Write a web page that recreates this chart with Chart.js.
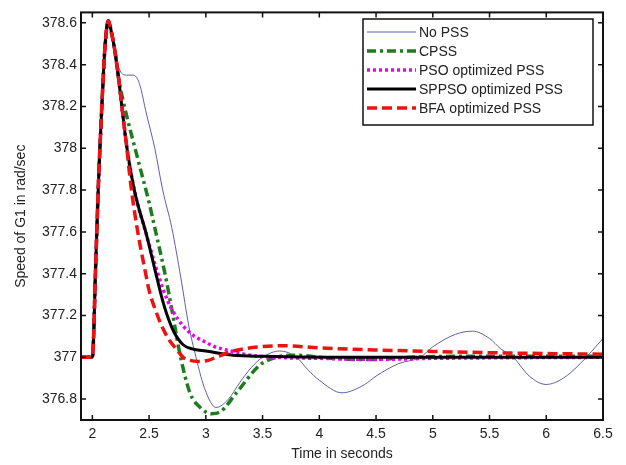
<!DOCTYPE html>
<html lang="en">
<head>
  <meta charset="UTF-8" />
  <title>Speed of G1</title>
  <script src="https://cdn.jsdelivr.net/npm/chart.js"></script>
  <style>
    html, body { margin: 0; padding: 0; background: #fff; }
    #wrap { width: 626px; height: 465px; }
  </style>
</head>
<body>
  <div id="wrap"><canvas id="speedChart" width="626" height="465"></canvas></div>

  <script>
    // common first swing (all controllers identical here)
    const riseTime  = [1.9, 2.0, 2.03, 2.055, 2.075, 2.095, 2.112, 2.14, 2.17, 2.2];
    const riseSpeed = [377.0, 377.0, 377.45, 377.85, 378.1, 378.33, 378.49, 378.61, 378.55, 378.46];

    const noPssTime  = [2.245, 2.3, 2.36, 2.4, 2.43, 2.47, 2.55, 2.62, 2.7, 2.78, 2.85, 2.9, 2.99, 3.09, 3.2, 3.3, 3.4, 3.5, 3.65, 3.8, 3.9, 4.0, 4.2, 4.4, 4.5, 4.7, 4.89, 5.0, 5.2, 5.35, 5.5, 5.6, 5.71, 5.85, 6.0, 6.15, 6.3, 6.5];
    const noPssSpeed = [378.37, 378.35, 378.35, 378.33, 378.28, 378.18, 378.0, 377.8, 377.62, 377.38, 377.15, 377.03, 376.85, 376.76, 376.8, 376.88, 376.95, 377.0, 377.03, 377.0, 376.94, 376.89, 376.83, 376.87, 376.91, 376.97, 377.0, 377.05, 377.11, 377.125, 377.09, 377.04, 377.0, 376.91, 376.87, 376.9, 376.97, 377.09];

    const cpssTime  = [2.23, 2.27, 2.4, 2.5, 2.55, 2.64, 2.71, 2.77, 2.86, 2.95, 3.05, 3.13, 3.27, 3.47, 3.62, 3.8, 4.0, 4.3, 4.5, 4.8, 5.5, 6.5];
    const cpssSpeed = [378.34, 378.23, 377.95, 377.74, 377.62, 377.4, 377.2, 377.02, 376.83, 376.76, 376.73, 376.74, 376.83, 376.96, 377.0, 377.01, 377.0, 376.99, 376.99, 377.0, 377.005, 377.005];

    const psoTime  = [2.23, 2.26, 2.3, 2.37, 2.48, 2.56, 2.62, 2.7, 2.8, 2.9, 2.97, 3.08, 3.18, 3.39, 3.6, 4.0, 4.5, 5.0, 6.5];
    const psoSpeed = [378.34, 378.2, 378.02, 377.8, 377.58, 377.43, 377.33, 377.23, 377.15, 377.1, 377.08, 377.05, 377.035, 377.01, 377.0, 376.995, 376.99, 376.995, 377.0];

    const sppsoTime  = [2.23, 2.26, 2.3, 2.37, 2.48, 2.56, 2.62, 2.66, 2.72, 2.8, 2.88, 3.0, 3.24, 3.5, 4.5, 6.5];
    const sppsoSpeed = [378.34, 378.2, 378.02, 377.8, 377.58, 377.4, 377.27, 377.2, 377.12, 377.06, 377.04, 377.03, 377.01, 377.005, 377.0, 377.0];

    const bfaTime  = [2.23, 2.26, 2.3, 2.34, 2.4, 2.47, 2.5, 2.56, 2.62, 2.68, 2.74, 2.8, 2.86, 2.94, 3.02, 3.09, 3.24, 3.47, 3.7, 4.0, 4.5, 5.0, 5.5, 6.0, 6.5];
    const bfaSpeed = [378.34, 378.2, 378.02, 377.82, 377.6, 377.4, 377.32, 377.22, 377.14, 377.08, 377.04, 377.0, 376.985, 376.98, 376.985, 377.0, 377.03, 377.05, 377.055, 377.045, 377.035, 377.028, 377.022, 377.018, 377.015];

    const xTicks = [2, 2.5, 3, 3.5, 4, 4.5, 5, 5.5, 6, 6.5];
    const yTicks = [376.8, 377, 377.2, 377.4, 377.6, 377.8, 378, 378.2, 378.4, 378.6];

    function points(t, v) {
      const tt = riseTime.concat(t), vv = riseSpeed.concat(v);
      return tt.map((x, i) => ({ x: x, y: vv[i] }));
    }

    const FONT = '"Liberation Sans", Arial, sans-serif';

    // inward matlab style ticks and box
    const boxTicks = {
      id: 'boxTicks',
      afterDatasetsDraw(chart) {
        const { ctx, chartArea: a, scales } = chart;
        ctx.save();
        ctx.strokeStyle = '#111';
        ctx.lineWidth = 1.5;
        const len = 5;
        xTicks.forEach(v => {
          const px = scales.x.getPixelForValue(v);
          ctx.beginPath();
          ctx.moveTo(px, a.bottom); ctx.lineTo(px, a.bottom - len);
          ctx.moveTo(px, a.top); ctx.lineTo(px, a.top + len);
          ctx.stroke();
        });
        yTicks.forEach(v => {
          const py = scales.y.getPixelForValue(v);
          ctx.beginPath();
          ctx.moveTo(a.left, py); ctx.lineTo(a.left + len, py);
          ctx.moveTo(a.right, py); ctx.lineTo(a.right - len, py);
          ctx.stroke();
        });
        ctx.lineWidth = 2;
        ctx.strokeRect(a.left, a.top, a.right - a.left, a.bottom - a.top);
        ctx.restore();
      }
    };

    // legend box in upper right, like the matlab one
    const boxLegend = {
      id: 'boxLegend',
      afterDraw(chart) {
        const ctx = chart.ctx;
        const x0 = 363, y0 = 19, w = 230, h = 106;
        ctx.save();
        ctx.fillStyle = '#fff';
        ctx.fillRect(x0, y0, w, h);
        ctx.strokeStyle = '#111';
        ctx.lineWidth = 1.5;
        ctx.setLineDash([]);
        ctx.strokeRect(x0, y0, w, h);
        chart.data.datasets.forEach((ds, i) => {
          const y = 32 + i * 19;
          ctx.strokeStyle = ds.borderColor;
          ctx.lineWidth = ds.borderWidth;
          ctx.setLineDash(ds.borderDash || []);
          ctx.beginPath();
          ctx.moveTo(367, y); ctx.lineTo(416, y);
          ctx.stroke();
          ctx.setLineDash([]);
          ctx.fillStyle = '#222';
          ctx.font = '14px ' + FONT;
          ctx.textBaseline = 'middle';
          ctx.fillText(ds.label, 419, y + 1);
        });
        ctx.restore();
      }
    };

    new Chart(document.getElementById('speedChart'), {
      type: 'line',
      data: {
        datasets: [
          { label: 'No PSS', data: points(noPssTime, noPssSpeed), borderColor: '#5e5eb0', borderWidth: 1, order: 5 },
          { label: 'CPSS', data: points(cpssTime, cpssSpeed), borderColor: '#1e7b1e', borderWidth: 3.5, borderDash: [9, 4, 3, 4], order: 4 },
          { label: 'PSO optimized PSS', data: points(psoTime, psoSpeed), borderColor: '#f000f0', borderWidth: 3.5, borderDash: [3, 3], order: 3 },
          { label: 'SPPSO optimized PSS', data: points(sppsoTime, sppsoSpeed), borderColor: '#000000', borderWidth: 3, order: 2 },
          { label: 'BFA optimized PSS', data: points(bfaTime, bfaSpeed), borderColor: '#ee1111', borderWidth: 3.5, borderDash: [10, 5], order: 1 }
        ]
      },
      options: {
        responsive: false,
        animation: false,
        elements: {
          point: { radius: 0 },
          line: { cubicInterpolationMode: 'monotone', fill: false }
        },
        layout: { padding: { top: 7, right: 23, left: 0, bottom: 0 } },
        plugins: { legend: { display: false }, tooltip: { enabled: false } },
        scales: {
          x: {
            type: 'linear',
            min: 1.9, max: 6.5,
            afterBuildTicks: s => { s.ticks = xTicks.map(v => ({ value: v })); },
            afterFit: s => { s.height = 45; },
            grid: { display: false, drawTicks: false },
            border: { display: false },
            ticks: { color: '#222', font: { family: FONT, size: 14 }, padding: 6, maxRotation: 0,
                     callback: v => String(+v.toFixed(1)) },
            title: { display: true, text: 'Time in seconds', color: '#222', font: { family: FONT, size: 14 }, padding: { top: 0, bottom: 2 } }
          },
          y: {
            min: 376.7, max: 378.65,
            afterBuildTicks: s => { s.ticks = yTicks.map(v => ({ value: v })); },
            afterFit: s => { s.width = 81; },
            grid: { display: false, drawTicks: false },
            border: { display: false },
            ticks: { color: '#222', font: { family: FONT, size: 14 }, padding: 4,
                     callback: v => String(+v.toFixed(1)) },
            title: { display: true, text: 'Speed of G1 in rad/sec', color: '#222', font: { family: FONT, size: 14 }, padding: { top: 13, bottom: 0 } }
          }
        }
      },
      plugins: [boxTicks, boxLegend]
    });
  </script>
</body>
</html>
